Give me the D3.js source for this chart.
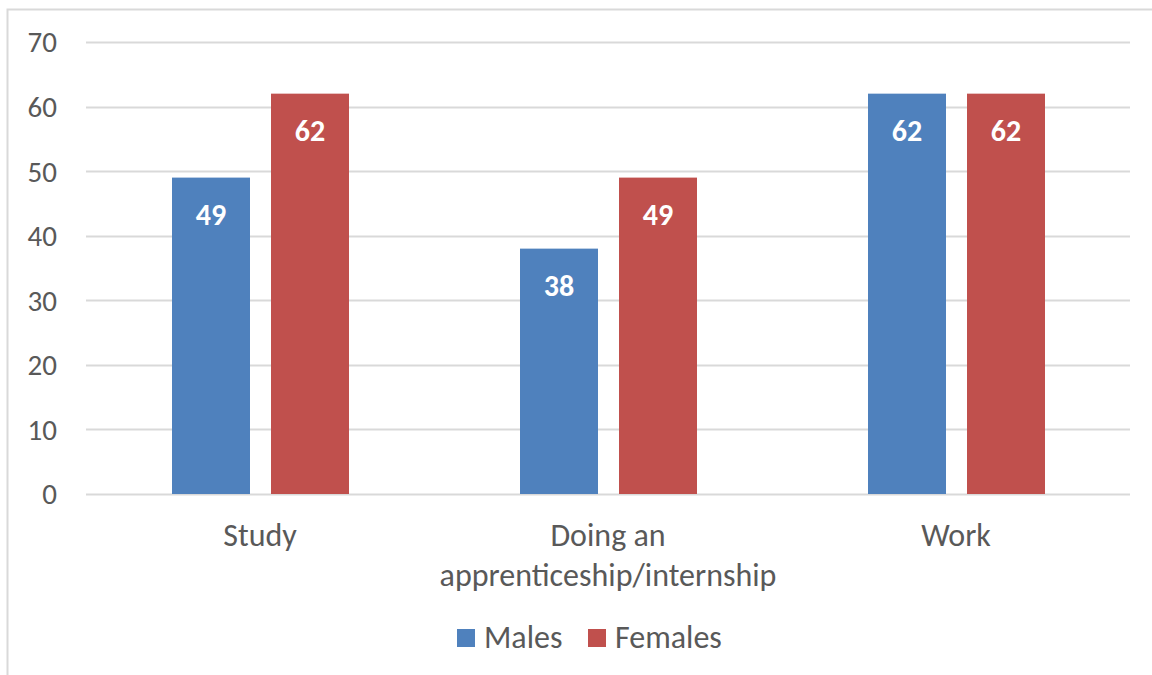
<!DOCTYPE html>
<html><head><meta charset="utf-8">
<script src="https://cdn.jsdelivr.net/npm/d3@7"></script>
<style>body{margin:0;background:#fff}svg{display:block}text{font-family:Carlito,Calibri,Lato,"Open Sans",sans-serif}</style>
</head><body><svg id="c" width="1152" height="675"></svg>
<script>
const categories = [["Study"], ["Doing an", "apprenticeship/internship"], ["Work"]];
const seriesNames = ["Males", "Females"];
const males = [49, 38, 62];
const females = [62, 49, 62];
const yTicks = [0, 10, 20, 30, 40, 50, 60, 70];
const colors = ["#4f81bd", "#c0504d"];

(function () {
const svg = d3.select("#c");
svg.append("rect").attr("x", 7.5).attr("y", 9.5).attr("width", 1160).attr("height", 700)
  .attr("fill", "#fff").attr("stroke", "#d9d9d9").attr("stroke-width", 2);

const pLeft = 86, pRight = 1130, pTop = 42, pBottom = 494;
const x = d3.scaleBand().domain(d3.range(categories.length)).range([pLeft, pRight]);
const y = d3.scaleLinear().domain([0, 70]).range([pBottom, pTop]);

const g = svg.append("g");
g.selectAll("line.grid").data(yTicks).join("line")
  .attr("x1", pLeft).attr("x2", pRight).attr("y1", d => Math.round(y(d)) + 0.5).attr("y2", d => Math.round(y(d)) + 0.5)
  .attr("stroke", "#d9d9d9").attr("stroke-width", 2);
g.selectAll("text.yt").data(yTicks).join("text")
  .attr("x", 57).attr("y", d => y(d)).attr("dy", "0.36em").attr("text-anchor", "end")
  .attr("font-size", 29).attr("fill", "#595959").text(d => d);

const data = [males, females];
const barW = 78, gap = 21, outer = 86;
data.forEach((vals, si) => {
  const bars = g.append("g").selectAll("g").data(vals).join("g");
  bars.append("rect")
    .attr("x", (d, i) => x(i) + outer + si * (barW + gap))
    .attr("width", barW)
    .attr("y", d => y(d)).attr("height", d => y(0) - y(d))
    .attr("fill", colors[si]);
  bars.append("text")
    .attr("x", (d, i) => x(i) + outer + si * (barW + gap) + barW / 2)
    .attr("y", d => y(d) + 47).attr("text-anchor", "middle")
    .attr("font-size", 30).attr("font-weight", "bold").attr("fill", "#fff").text(d => d);
});

categories.forEach((lines, i) => {
  const t = g.append("text").attr("text-anchor", "middle").attr("font-size", 32).attr("fill", "#595959");
  lines.forEach((l, j) => t.append("tspan").attr("x", x(i) + x.bandwidth() / 2).attr("y", 546 + j * 40).text(l));
});

const leg = svg.append("g");
const legX = [457, 588];
seriesNames.forEach((n, i) => {
  leg.append("rect").attr("x", legX[i]).attr("y", 629).attr("width", 18).attr("height", 18).attr("fill", colors[i]);
  leg.append("text").attr("x", legX[i] + 27).attr("y", 648).attr("font-size", 32).attr("fill", "#595959").text(n);
});
})();
</script></body></html>
